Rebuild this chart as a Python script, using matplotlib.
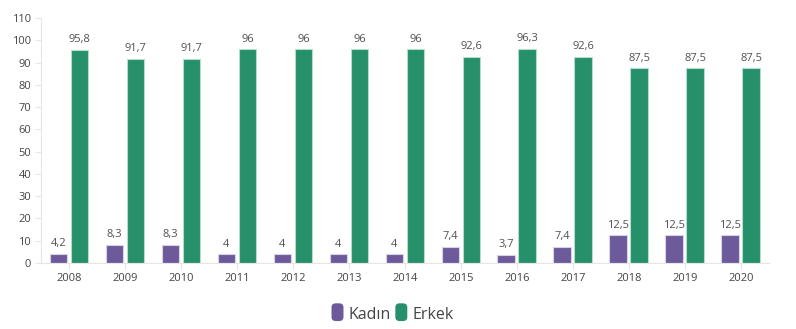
import numpy as np
import matplotlib.pyplot as plt
from matplotlib.patches import FancyBboxPatch, Rectangle
from matplotlib.legend_handler import HandlerPatch

plt.rcParams['font.family'] = ['Open Sans', 'DejaVu Sans']

years = ['2008', '2009', '2010', '2011', '2012', '2013', '2014',
         '2015', '2016', '2017', '2018', '2019', '2020']
kadin = [4.2, 8.3, 8.3, 4, 4, 4, 4, 7.4, 3.7, 7.4, 12.5, 12.5, 12.5]
erkek = [95.8, 91.7, 91.7, 96, 96, 96, 96, 92.6, 96.3, 92.6, 87.5, 87.5, 87.5]

c_kadin = '#6d5a9b'
c_erkek = '#25906a'


def fmt(v):
    s = f'{v:g}'
    return s.replace('.', ',')


fig = plt.figure(figsize=(7.96, 3.29), dpi=100)
ax = fig.add_axes([0.0515, 0.2006, 0.9145, 0.7447])

x = np.arange(len(years))
w = 0.32
off = 0.1875
b1 = ax.bar(x - off, kadin, w, color=c_kadin, edgecolor='#d8d2e6', linewidth=0.8, label='Kadın')
b2 = ax.bar(x + off, erkek, w, color=c_erkek, edgecolor='#b5dcc9', linewidth=0.8, label='Erkek')

for xi, v in zip(x, kadin):
    ax.text(xi - off, v + 2, fmt(v), ha='center', va='bottom', fontsize=8, color='#505050')
for xi, v in zip(x, erkek):
    ax.text(xi + off, v + 2, fmt(v), ha='center', va='bottom', fontsize=8, color='#505050')

ax.set_xlim(-0.5, len(years) - 0.5)
ax.set_ylim(0, 110)
ax.set_yticks(range(0, 111, 10))
ax.set_xticks(x)
ax.set_xticklabels(years)
ax.tick_params(axis='both', labelsize=8, colors='#e6e6e6', labelcolor='#444444', length=4, width=0.8)
ax.tick_params(axis='y', pad=3)
ax.tick_params(axis='x', pad=3)
for s in ['top', 'right']:
    ax.spines[s].set_visible(False)
for s in ['left', 'bottom']:
    ax.spines[s].set_color('#e6e6e6')
    ax.spines[s].set_linewidth(0.8)


class RoundBox(HandlerPatch):
    # tall rounded swatch, taller than the default handle box
    def create_artists(self, legend, orig_handle, xdescent, ydescent, width, height, fontsize, trans):
        h = height * 1.45
        p = FancyBboxPatch((xdescent, ydescent + height / 2 - h / 2), width, h,
                           boxstyle='round,pad=0,rounding_size=3',
                           facecolor=orig_handle.get_facecolor(), edgecolor='none', transform=trans)
        return [p]


fig.legend(handles=[b1.patches[0], b2.patches[0]], labels=['Kadın', 'Erkek'],
           loc='center', bbox_to_anchor=(0.493, 0.043),
           ncol=2, frameon=False, fontsize=11.5, handlelength=0.75, handleheight=0.8,
           handletextpad=0.3, columnspacing=0.3, labelcolor='#444444',
           handler_map={Rectangle: RoundBox()})

fig.savefig('out.png', dpi=100)
